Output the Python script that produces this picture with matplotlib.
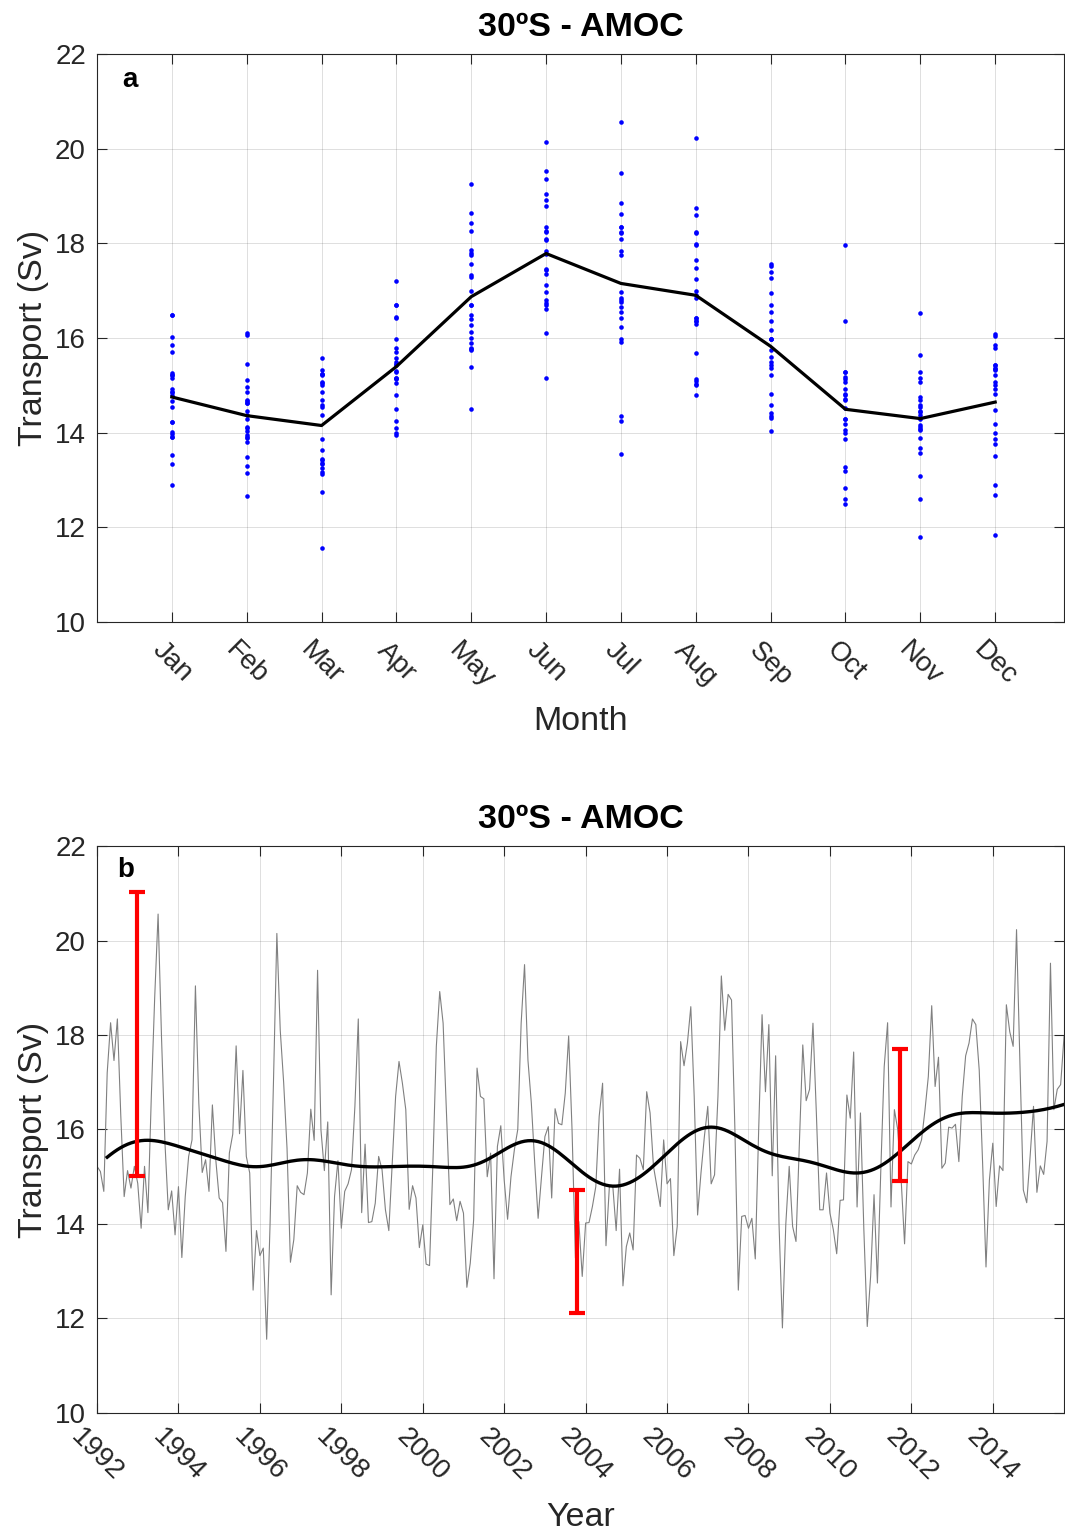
import numpy as np
import matplotlib.pyplot as plt
import matplotlib.transforms as mtransforms

plt.rcParams['font.family'] = ['Liberation Sans', 'DejaVu Sans']

# monthly AMOC transport at 30S (Sv), Jan 1992 - Oct 2015
amoc = [
    15.22, 15.11, 14.69, 17.20, 18.26, 17.46, 18.34, 16.30, 14.58, 15.13, 14.76, 15.22,  # 1992
    14.86, 13.91, 15.22, 14.24, 16.70, 18.80, 20.56, 17.97, 15.75, 14.30, 14.70, 13.77,  # 1993
    14.79, 13.29, 14.58, 15.43, 15.78, 19.04, 16.56, 15.09, 15.36, 14.69, 16.52, 15.36,  # 1994
    14.55, 14.45, 13.42, 15.50, 15.90, 17.77, 15.91, 17.25, 15.43, 15.08, 12.60, 13.86,  # 1995
    13.33, 13.49, 11.56, 14.00, 17.00, 20.15, 18.10, 17.00, 15.60, 13.19, 13.67, 14.81,  # 1996
    14.67, 14.62, 15.08, 16.43, 15.77, 19.37, 15.99, 15.13, 16.16, 12.50, 14.58, 15.34,  # 1997
    13.91, 14.69, 14.85, 15.15, 16.49, 18.34, 14.24, 15.69, 14.03, 14.05, 14.44, 15.43,  # 1998
    15.15, 14.30, 13.86, 15.30, 16.70, 17.44, 16.98, 16.42, 14.31, 14.81, 14.55, 13.50,  # 1999
    13.98, 13.15, 13.12, 15.29, 17.76, 18.92, 18.25, 16.35, 14.41, 14.53, 14.07, 14.48,  # 2000
    14.23, 12.66, 13.17, 14.09, 17.30, 16.70, 16.65, 15.00, 15.50, 12.84, 15.64, 16.08,  # 2001
    14.93, 14.10, 15.00, 15.57, 16.00, 18.25, 19.49, 17.47, 16.56, 15.29, 14.12, 15.00,  # 2002
    15.85, 16.06, 14.55, 16.44, 16.13, 16.10, 16.77, 17.98, 15.99, 13.28, 14.05, 12.89,  # 2003
    14.02, 14.03, 14.37, 14.79, 16.28, 16.98, 13.54, 14.79, 14.81, 13.86, 15.16, 12.69,  # 2004
    13.52, 13.81, 13.45, 15.46, 15.39, 15.15, 16.80, 16.35, 15.22, 14.79, 14.37, 15.78,  # 2005
    14.85, 14.96, 13.33, 13.95, 17.86, 17.35, 17.83, 18.60, 16.70, 14.19, 15.08, 15.85,  # 2006
    16.49, 14.85, 15.04, 16.70, 19.25, 18.10, 18.86, 18.74, 15.99, 12.60, 14.16, 14.18,  # 2007
    13.91, 14.12, 13.26, 15.99, 18.43, 16.80, 18.22, 15.02, 17.56, 14.00, 11.80, 14.00,  # 2008
    15.22, 13.95, 13.63, 15.71, 17.79, 16.61, 16.85, 18.25, 16.35, 14.30, 14.30, 15.08,  # 2009
    14.23, 13.88, 13.37, 14.50, 14.51, 16.73, 16.24, 17.64, 14.36, 16.35, 13.88, 11.83,  # 2010
    12.90, 14.62, 12.75, 15.15, 17.33, 18.26, 14.36, 16.42, 15.99, 14.93, 13.58, 15.32,  # 2011
    15.27, 15.46, 15.57, 15.78, 16.40, 17.12, 18.62, 16.91, 17.53, 15.18, 15.29, 16.05,  # 2012
    16.03, 16.11, 15.32, 16.70, 17.56, 17.83, 18.34, 18.22, 17.26, 15.29, 13.09, 14.93,  # 2013
    15.71, 14.37, 15.23, 15.13, 18.64, 18.07, 17.76, 20.23, 17.40, 14.72, 14.45, 15.43,  # 2014
    16.49, 14.67, 15.23, 15.05, 15.75, 19.52, 16.42, 16.85, 16.95, 17.97,                # 2015
]
month_names = ['Jan', 'Feb', 'Mar', 'Apr', 'May', 'Jun',
               'Jul', 'Aug', 'Sep', 'Oct', 'Nov', 'Dec']
year_ticks = list(range(1992, 2016, 2))

# red range bars (time, centre, half length)
bar_time = [1992.98, 2003.79, 2011.73]
bar_mid = [18.02, 13.42, 16.30]
bar_half = [3.00, 1.30, 1.40]

amoc = np.array(amoc)
t = 1992 + np.arange(len(amoc)) / 12.0
mon = np.arange(len(amoc)) % 12 + 1
mon_mean = [amoc[mon == m].mean() for m in range(1, 13)]


def lowpass(y, sigma=9.0, npad=18):
    # gaussian running mean; odd reflection at the start like filtfilt,
    # weights renormalised at the far end
    y = np.asarray(y)
    ypad = np.concatenate([2 * y[0] - y[npad:0:-1], y])
    k = np.arange(len(ypad))
    w = np.exp(-0.5 * ((k[:, None] - k[None, :]) / sigma) ** 2)
    return ((w @ ypad) / w.sum(axis=1))[npad:]


smooth = lowpass(amoc)

axc = '#262626'


def style(ax):
    ax.set_ylim(10, 22)
    ax.set_yticks(range(10, 23, 2))
    ax.grid(True, color=(0.15, 0.15, 0.15), alpha=0.15, lw=0.7)
    ax.set_axisbelow(True)
    ax.tick_params(direction='in', top=True, right=True, length=7, width=0.8,
                   labelsize=20, colors=axc, pad=8)
    for s in ax.spines.values():
        s.set_color(axc)
        s.set_linewidth(0.8)
    ax.set_ylabel('Transport (Sv)', fontsize=24.5, color=axc, labelpad=4)
    ax.set_title('30ºS - AMOC', fontsize=24.5, fontweight='bold', pad=13)


fig = plt.figure(figsize=(10.65, 15.31), dpi=100)
ax1 = fig.add_axes([0.0911, 0.5937, 0.908, 0.371])
ax2 = fig.add_axes([0.0911, 0.0771, 0.908, 0.3703])

# a: seasonal cycle
ax1.plot(mon, amoc, 'o', color='blue', ms=3.3, mec='none')
ax1.plot(range(1, 13), mon_mean, color='black', lw=2.3)
ax1.set_xlim(0, 12.92)
ax1.set_xticks(range(1, 13))
ax1.set_xticklabels(month_names, rotation=-45, ha='center')
style(ax1)
ax1.tick_params(axis='x', pad=11)
ax1.set_xlabel('Month', fontsize=24.5, color=axc, labelpad=9.5)
ax1.text(0.034, 0.954, 'a', transform=ax1.transAxes, fontsize=20,
         fontweight='bold', ha='center', va='center')

# b: time series
ax2.plot(t, amoc, color=(0.5, 0.5, 0.5), lw=0.8)
ax2.plot(t[3:], smooth[3:], color='black', lw=2.4)
ax2.errorbar(bar_time, bar_mid, yerr=bar_half, fmt='none', ecolor='red',
             elinewidth=3, capsize=6, capthick=3)
ax2.set_xlim(t[0], t[-1])
ax2.set_xticks(year_ticks)
ax2.set_xticklabels([str(y) for y in year_ticks], rotation=-45, ha='center')
shift = mtransforms.ScaledTranslation(0.12, -0.11, fig.dpi_scale_trans)
for lab in ax2.get_xticklabels():
    lab.set_transform(lab.get_transform() + shift)
style(ax2)
ax2.set_xlabel('Year', fontsize=24.5, color=axc, labelpad=11.5)
ax2.text(0.03, 0.958, 'b', transform=ax2.transAxes, fontsize=20,
         fontweight='bold', ha='center', va='center')

fig.savefig('out.png', dpi=100)
